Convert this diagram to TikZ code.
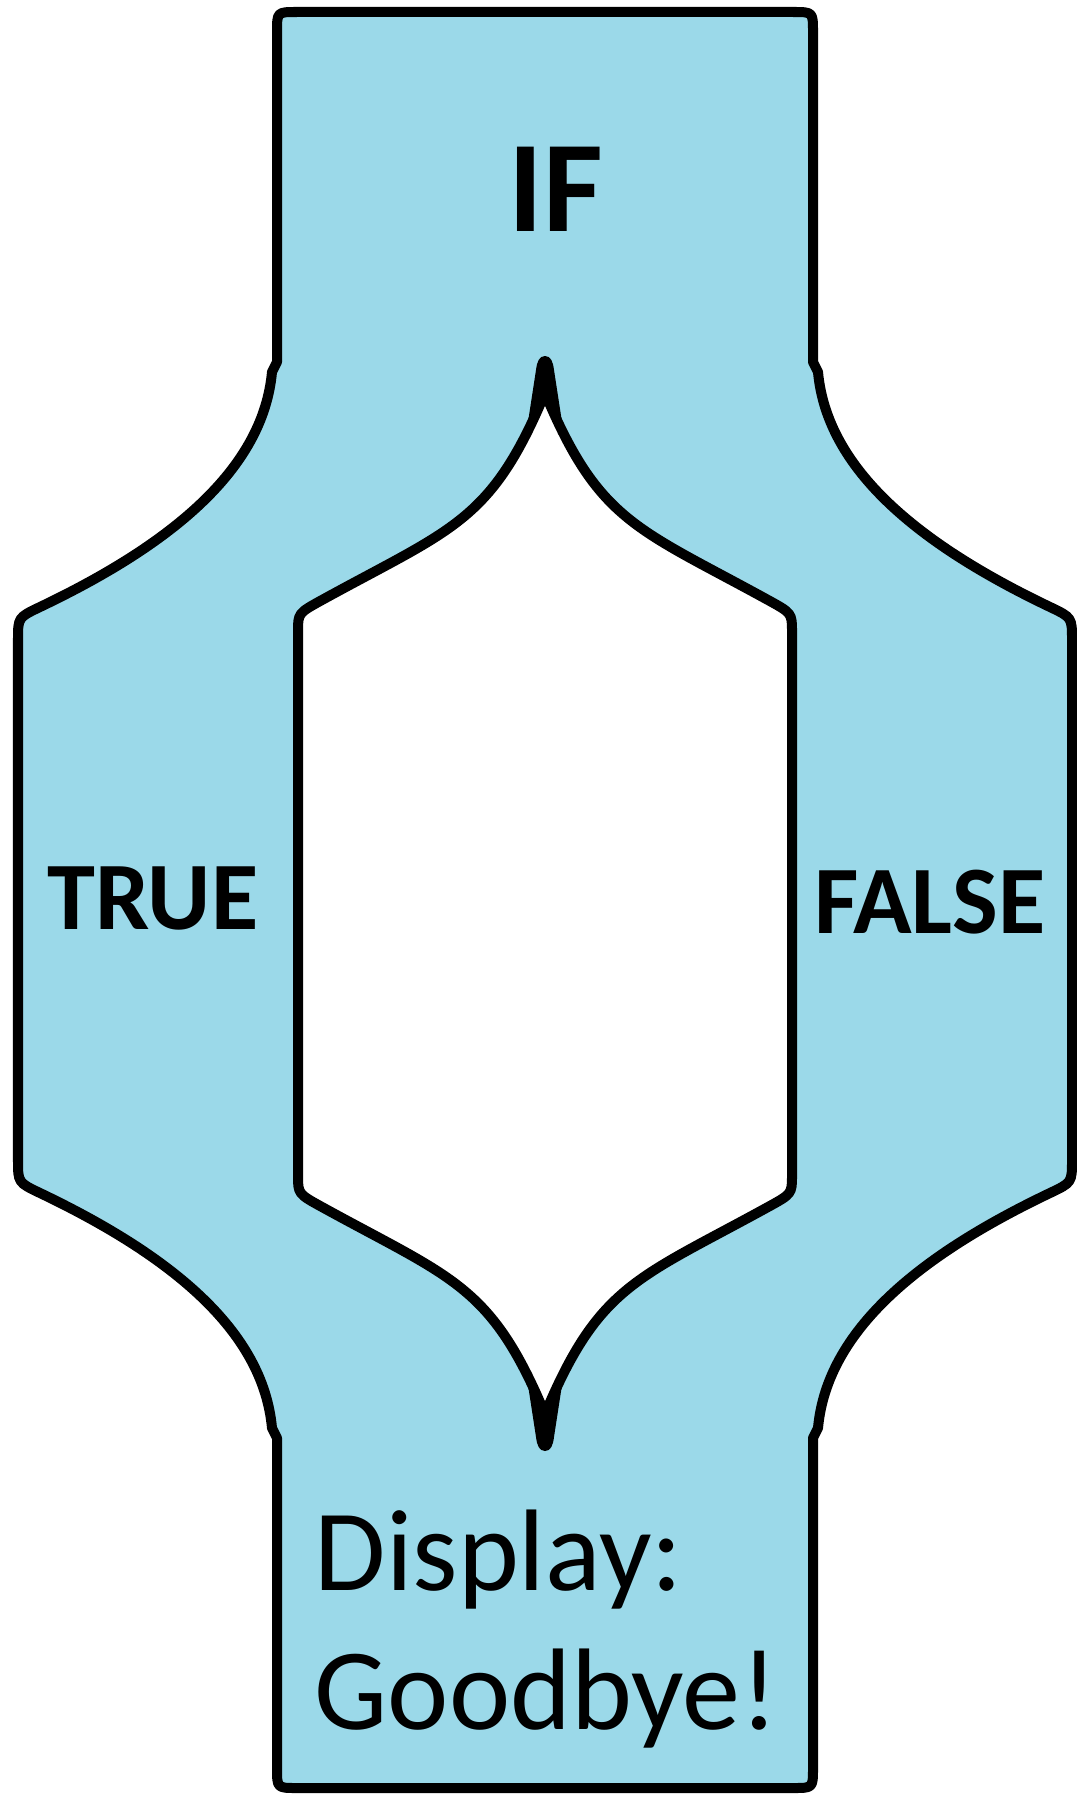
\documentclass[tikz,border=0pt]{standalone}
\usepackage{fontspec}
\setmainfont{Carlito}
\definecolor{skyfill}{HTML}{9BD9E9}
\begin{document}
\begin{tikzpicture}[x=0.01cm,y=-0.01cm,
  outline/.style={draw=black,line width=0.1cm,line join=round},
  lbl/.style={inner sep=0,font=\bfseries\fontsize{27.5}{32}\selectfont}]
\useasboundingbox (0,0) rectangle (1077,1794);
% outer band
\path[outline,fill=skyfill]
 (277,362) -- (277,32) .. controls (277,12) .. (297,12) -- (793,12) .. controls (813,12) .. (813,32) -- (813,362)
 -- (818,372) .. controls (827,470) and (920,545) .. (1050,607) .. controls (1072,617.5) .. (1072,640)
 -- (1072,1160) .. controls (1072,1182.5) .. (1050,1193)
 .. controls (920,1255) and (827,1330) .. (818,1428) -- (813,1438)
 -- (813,1768) .. controls (813,1788) .. (793,1788) -- (297,1788) .. controls (277,1788) .. (277,1768) -- (277,1438)
 -- (272,1428) .. controls (263,1330) and (170,1255) .. (40,1193) .. controls (18,1182.5) .. (18,1160)
 -- (18,640) .. controls (18,617.5) .. (40,607)
 .. controls (170,545) and (263,470) .. (272,372) -- cycle;
% inner hole
\path[outline,fill=white]
 (545,393) .. controls (599,522) and (637,528) .. (768,600) .. controls (792,613.2) .. (792,632)
 -- (792,1175) .. controls (792,1193.8) .. (768,1207)
 .. controls (637,1279) and (599,1285) .. (545,1414)
 .. controls (491,1285) and (453,1279) .. (322,1207) .. controls (298,1193.8) .. (298,1175)
 -- (298,632) .. controls (298,613.2) .. (322,600)
 .. controls (453,528) and (491,522) .. (545,393) -- cycle;
% cusp spikes
\fill (545,356) .. controls (551,356) and (553,362) .. (554,370) -- (562,422) -- (545,400) -- (528,422) -- (536,370)
 .. controls (537,362) and (539,356) .. (545,356) -- cycle;
\fill (545,1451) .. controls (551,1451) and (553,1445) .. (554,1437) -- (562,1385) -- (545,1407) -- (528,1385) -- (536,1437)
 .. controls (537,1445) and (539,1451) .. (545,1451) -- cycle;
% labels
\node[inner sep=0,font=\bfseries\fontsize{37}{42}\selectfont] (if) at (556,189) {IF};
\node[lbl] (true) at (153,898) {TRUE};
\node[lbl] (false) at (930,902) {FALSE};
\node[inner sep=0,align=left,anchor=base west,font=\fontsize{33}{39.5}\selectfont] (disp) at (314,1729) {Display:\\Goodbye!};
\end{tikzpicture}
\end{document}
